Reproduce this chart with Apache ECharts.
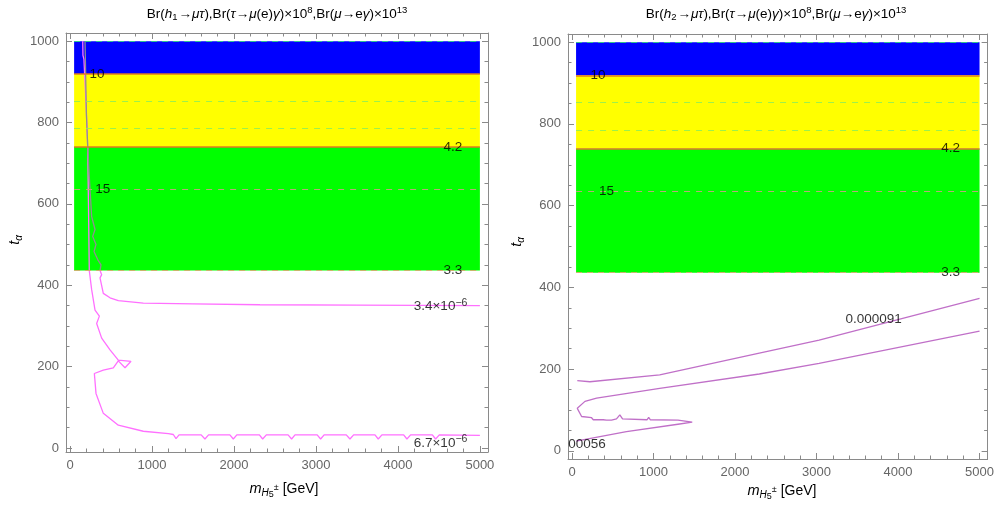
<!DOCTYPE html>
<html>
<head>
<meta charset="utf-8">
<script src="https://cdn.jsdelivr.net/npm/echarts@6/dist/echarts.min.js"></script>
<style>
  html, body { margin: 0; padding: 0; background: #fff; }
  #chart { width: 997px; height: 509px; }
</style>
</head>
<body>
<div id="chart"></div>
<script>
// 数据
var xSpan = [50, 5000];
var bandEdges = [436, 740, 919, 1000];          // green | yellow | blue
var bandColors = ['#00ff00', '#ffff00', '#0000ff'];
var meshLevels = [635, 785, 853];               // faint mesh lines inside the bands

var xMajor = [0, 1000, 2000, 3000, 4000, 5000];
var xMinor = [200, 400, 600, 800, 1200, 1400, 1600, 1800, 2200, 2400, 2600, 2800,
              3200, 3400, 3600, 3800, 4200, 4400, 4600, 4800];
var yMajor = [0, 200, 400, 600, 800, 1000];
var yMinor = [50, 100, 150, 250, 300, 350, 450, 500, 550, 650, 700, 750, 850, 900, 950];

// left panel: h1 contours
var h1Upper = [[5000, 350], [3500, 351], [2317, 352], [1500, 354], [894, 356], [589, 362],
               [488, 369], [406, 380], [366, 418], [386, 426], [366, 436]];
var h1UpperInBand = [[366, 436], [378, 450], [338, 463], [293, 483], [317, 500], [277, 520],
                     [305, 537], [264, 569], [240, 650], [216, 740], [200, 820], [183, 1000]];
var h1Main = [[155, 1000], [158, 965], [170, 955], [172, 945], [195, 850], [216, 740],
              [225, 600], [235, 436], [264, 389], [305, 339], [358, 324], [325, 306],
              [386, 270], [488, 241], [589, 216], [744, 213], [671, 197], [589, 214],
              [528, 197], [406, 191], [297, 183], [317, 134], [406, 85], [589, 56],
              [894, 41], [1200, 35], [1260, 33], [1293, 23], [1330, 32],
              [1600, 32], [1646, 22], [1690, 32], [1950, 32], [1992, 22], [2035, 32],
              [2310, 32], [2350, 22], [2395, 32], [2660, 32], [2703, 22], [2745, 32],
              [3015, 32], [3057, 22], [3100, 32], [3370, 32], [3415, 22], [3460, 32],
              [3720, 32], [3760, 22], [3805, 32], [4070, 32], [4110, 22], [4155, 32],
              [4420, 32], [4460, 22], [4505, 32], [5000, 31]];

// right panel: h2 contours
var h2Upper = [[65, 172], [220, 169], [1076, 186], [2298, 239], [3032, 271], [5000, 373]];
var h2Lower = [[5000, 293], [3032, 214], [2298, 188], [1076, 153], [302, 129], [159, 121],
               [65, 104], [118, 84], [240, 81], [261, 76], [383, 76], [403, 80], [424, 75],
               [485, 75], [505, 78], [546, 78], [587, 88], [620, 78], [920, 76], [941, 82],
               [962, 76], [1300, 75], [1475, 70], [1300, 65], [668, 47], [50, 24]];

// contour labels [x, y, text]
var leftLabels = [[330, 919, '10'], [400, 635, '15'], [4670, 740, '4.2'], [4670, 436, '3.3'],
                  [4520, 348, '3.4×10{p|−6}'], [4520, 12, '6.7×10{p|−6}']];
var rightLabels = [[318, 919, '10'], [424, 635, '15'], [4645, 740, '4.2'], [4645, 436, '3.3'],
                   [3700, 322, '0.000091']];
var rightClipLabel = [[-45, 17, '00056']];

var frameColor = '#8a8a8a';
var tickText = '#666';

function axisPair(grid, range, pos, major, minor, showLabel) {
    var base = {
        type: 'value', gridIndex: grid, min: range[0], max: range[1], position: pos,
        splitLine: { show: false }
    };
    var a = Object.assign({}, base, {
        axisLine: { show: true, onZero: false, lineStyle: { color: frameColor, width: 1 } },
        axisTick: { show: true, inside: true, length: 6, customValues: major, lineStyle: { color: frameColor } },
        axisLabel: showLabel ? {
            show: true, customValues: major, color: tickText, fontSize: 13,
            fontFamily: 'Liberation Sans', margin: 7,
            formatter: function (v) { return String(v); }
        } : { show: false }
    });
    var b = Object.assign({}, base, {
        axisLine: { show: false, onZero: false },
        axisTick: { show: true, inside: true, length: 3.5, customValues: minor, lineStyle: { color: frameColor } },
        axisLabel: { show: false }
    });
    return [a, b];
}

var xRange = [-49, 5099];
var yRangeL = [-10, 1020];
var yRangeR = [-20, 1020];

var xAxes = [].concat(
    axisPair(0, xRange, 'bottom', xMajor, xMinor, true),
    axisPair(0, xRange, 'top', xMajor, xMinor, false),
    axisPair(1, xRange, 'bottom', xMajor, xMinor, true),
    axisPair(1, xRange, 'top', xMajor, xMinor, false)
);
var yAxes = [].concat(
    axisPair(0, yRangeL, 'left', yMajor, yMinor, true),
    axisPair(0, yRangeL, 'right', yMajor, yMinor, false),
    axisPair(1, yRangeR, 'left', yMajor, yMinor, true),
    axisPair(1, yRangeR, 'right', yMajor, yMinor, false)
);

function bandSeries(ax) {
    var areas = [];
    for (var i = 0; i < bandColors.length; i++) {
        areas.push([
            { xAxis: xSpan[0], yAxis: bandEdges[i], itemStyle: { color: bandColors[i] } },
            { xAxis: xSpan[1], yAxis: bandEdges[i + 1] }
        ]);
    }
    var seg = function (y, color, type, w) {
        return [{ coord: [xSpan[0], y], lineStyle: { color: color, type: type, width: w } },
                { coord: [xSpan[1], y] }];
    };
    return {
        type: 'line', data: [], xAxisIndex: ax, yAxisIndex: ax, silent: true, z: 1,
        markArea: { silent: true, itemStyle: { opacity: 1 }, data: areas },
        markLine: {
            silent: true, symbol: 'none', label: { show: false },
            data: [
                seg(bandEdges[0], '#c8b56a', [6, 5], 1),
                seg(meshLevels[0], '#b9a87a', [6, 6], 1),
                seg(meshLevels[1], '#9ef04a', [6, 6], 1),
                seg(meshLevels[2], '#9ef04a', [6, 6], 1),
                seg(bandEdges[1], '#e07a20', 'solid', 1.5),
                seg(bandEdges[2], '#e07a20', 'solid', 1.5),
                seg(bandEdges[3], '#30c090', [6, 5], 1)
            ]
        }
    };
}

function lineSeries(ax, data, color, z) {
    return {
        type: 'line', data: data, xAxisIndex: ax, yAxisIndex: ax, z: z || 3,
        showSymbol: false, silent: true, smooth: false,
        lineStyle: { color: color, width: 1.3 }
    };
}

function labelSeries(ax, labels, align) {
    return {
        type: 'scatter', xAxisIndex: ax, yAxisIndex: ax, symbolSize: 0, z: 6, silent: true,
        data: labels.map(function (d) { return { value: [d[0], d[1]], name: d[2] }; }),
        label: {
            show: true, position: 'inside', align: align || 'center', verticalAlign: 'middle',
            formatter: function (p) { return p.name; },
            color: '#000', fontSize: 13.5, fontFamily: 'Liberation Sans',
            rich: { p: { fontSize: 10.5, verticalAlign: 'top', color: '#000', padding: [0, 0, 7, 0] } }
        }
    };
}

var titleRich = {
    n: { fontSize: 13.5, color: '#555', fontFamily: 'Liberation Sans' },
    i: { fontSize: 13.5, color: '#555', fontFamily: 'Liberation Sans', fontStyle: 'italic' },
    s: { fontSize: 9.5, color: '#555', fontFamily: 'Liberation Sans', padding: [7, 1, 0, 0] },
    p: { fontSize: 9.5, color: '#555', fontFamily: 'Liberation Sans', padding: [0, 0, 8, 0] }
};
function titleText(k) {
    return '{n|Br(}{i|h}{s|' + k + '}{n|→}{i|μτ}{n|),Br(}{i|τ}{n|→}{i|μ}{n|(e)}{i|γ}{n|)×10}{p|8}' +
           '{n|,Br(}{i|μ}{n|→e}{i|γ}{n|)×10}{p|13}';
}
var nameRich = {
    n: { fontSize: 14, color: '#666', fontFamily: 'Liberation Sans' },
    i: { fontSize: 14.5, color: '#666', fontFamily: 'Liberation Sans', fontStyle: 'italic' },
    s: { fontSize: 10, color: '#666', fontFamily: 'Liberation Sans', fontStyle: 'italic', padding: [9, 0, 0, 0] },
    q: { fontSize: 9, color: '#666', fontFamily: 'Liberation Sans', padding: [11, 0, 0, 0] },
    u: { fontSize: 9, color: '#666', fontFamily: 'Liberation Sans', padding: [0, 0, 2, 0] }
};
var xName = '{i|m}{s|H}{q|5}{u|±}{n| [GeV]}';
var yName = '{i|t}{s|α}';

var myChart = echarts.init(document.getElementById('chart'), null, { renderer: 'canvas' });

var option = {
    animation: false,
    backgroundColor: '#fff',
    grid: [
        { left: 66, right: 509, top: 33, bottom: 57 },
        { left: 568, right: 8, top: 34, bottom: 50 }
    ],
    xAxis: xAxes,
    yAxis: yAxes,
    graphic: [
        { type: 'text', x: 277, y: 14, style: { text: titleText(1), rich: titleRich, align: 'center', verticalAlign: 'middle' } },
        { type: 'text', x: 776, y: 14, style: { text: titleText(2), rich: titleRich, align: 'center', verticalAlign: 'middle' } },
        { type: 'text', x: 284, y: 489, style: { text: xName, rich: nameRich, align: 'center', verticalAlign: 'middle' } },
        { type: 'text', x: 782, y: 491, style: { text: xName, rich: nameRich, align: 'center', verticalAlign: 'middle' } },
        { type: 'text', x: 15, y: 240, rotation: Math.PI / 2, style: { text: yName, rich: nameRich, align: 'center', verticalAlign: 'middle' } },
        { type: 'text', x: 517, y: 242, rotation: Math.PI / 2, style: { text: yName, rich: nameRich, align: 'center', verticalAlign: 'middle' } }
    ],
    series: [
        bandSeries(0),
        lineSeries(0, h1Upper, '#ff70ff'),
        lineSeries(0, h1UpperInBand, '#8f8f8f', 4),
        lineSeries(0, h1Main, '#ff70ff'),
        labelSeries(0, leftLabels),
        bandSeries(4),
        lineSeries(4, h2Upper, '#c070c8'),
        lineSeries(4, h2Lower, '#c070c8'),
        labelSeries(4, rightLabels),
        labelSeries(4, rightClipLabel, 'left')
    ]
};

myChart.setOption(option);
</script>
</body>
</html>
